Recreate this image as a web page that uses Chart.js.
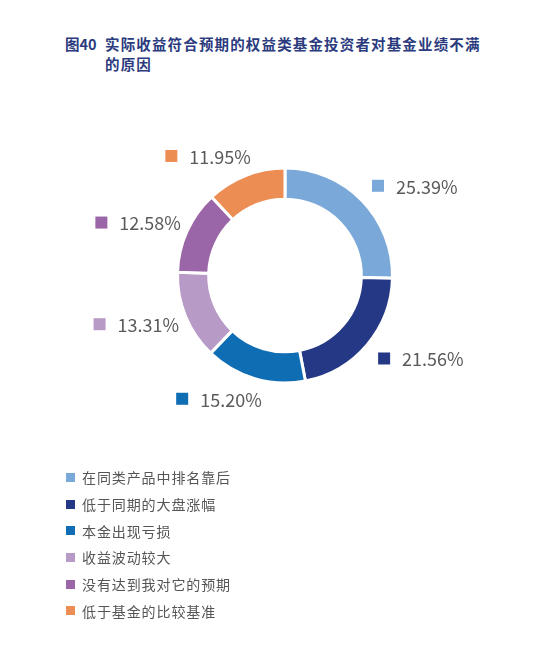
<!DOCTYPE html>
<html>
<head>
<meta charset="utf-8">
<script src="https://cdn.jsdelivr.net/npm/chart.js@4.4.1/dist/chart.umd.min.js"></script>
<style>
  html, body { margin: 0; padding: 0; background: #ffffff; }
  #wrap { position: relative; width: 554px; height: 658px; overflow: hidden; }
  #chart { position: absolute; left: 0; top: 0; }
  .title { position: absolute; font-family: "Noto Sans CJK SC", "Noto Sans", sans-serif; font-weight: bold; font-size: 14.5px; color: #2B3B7E; line-height: 20px; white-space: nowrap; }
  #legend { position: absolute; left: 66px; top: 464px; font-family: "Noto Sans CJK SC", "Noto Sans", sans-serif; font-size: 14px; color: #555555; letter-spacing: 0.9px; }
  .li { height: 26.7px; display: flex; align-items: center; white-space: nowrap; }
  .sw { width: 9px; height: 9px; margin-right: 7px; flex: none; }
</style>
</head>
<body>
<div id="wrap">
  <div class="title" style="left:65px; top:34px;">图40</div>
  <div class="title" style="left:105px; top:34px; letter-spacing:1.15px;">实际收益符合预期的权益类基金投资者对基金业绩不满<br>的原因</div>
  <canvas id="chart" width="554" height="658"></canvas>
  <div id="legend"></div>
</div>
<script>
const categories = ["在同类产品中排名靠后", "低于同期的大盘涨幅", "本金出现亏损", "收益波动较大", "没有达到我对它的预期", "低于基金的比较基准"];
const values = [25.39, 21.56, 15.20, 13.31, 12.58, 11.95];
const valueLabels = ["25.39%", "21.56%", "15.20%", "13.31%", "12.58%", "11.95%"];
const colors = ["#7AA8D8", "#253886", "#0F6DB3", "#B89AC6", "#9A66A7", "#EC8D53"];

// HTML legend built from the arrays
const legend = document.getElementById('legend');
categories.forEach((c, i) => {
  const row = document.createElement('div');
  row.className = 'li';
  const sw = document.createElement('span');
  sw.className = 'sw';
  sw.style.background = colors[i];
  const tx = document.createElement('span');
  tx.textContent = c;
  row.appendChild(sw);
  row.appendChild(tx);
  legend.appendChild(row);
});

const labelPlugin = {
  id: 'sliceLabels',
  afterDatasetsDraw(chart) {
    const ctx = chart.ctx;
    const meta = chart.getDatasetMeta(0);
    ctx.save();
    ctx.font = '18px "Noto Sans CJK SC", "Noto Sans", sans-serif';
    ctx.textBaseline = 'middle';
    meta.data.forEach((arc, i) => {
      const p = arc.getProps(['x', 'y', 'startAngle', 'endAngle', 'outerRadius'], true);
      const mid = (p.startAngle + p.endAngle) / 2;
      const R = p.outerRadius + 21;
      const ax = p.x + R * Math.cos(mid);
      const ay = p.y + R * Math.sin(mid);
      const txt = valueLabels[i];
      const tw = ctx.measureText(txt).width;
      let sqX;
      if (Math.cos(mid) >= 0) {
        sqX = ax - 5;
      } else {
        sqX = ax + 13 - tw - 24;
      }
      ctx.fillStyle = colors[i];
      ctx.fillRect(sqX, ay - 6, 12, 12);
      ctx.fillStyle = '#5A5A5A';
      ctx.textAlign = 'left';
      ctx.fillText(txt, sqX + 24, ay + 1);
    });
    ctx.restore();
  }
};

new Chart(document.getElementById('chart'), {
  type: 'doughnut',
  data: {
    labels: categories,
    datasets: [{
      data: values,
      backgroundColor: colors,
      borderColor: '#ffffff',
      borderWidth: 3
    }]
  },
  options: {
    responsive: false,
    animation: false,
    cutout: '71%',
    layout: { padding: { left: 176, right: 160, top: 166.5, bottom: 273.5 } },
    plugins: {
      legend: { display: false },
      title: { display: false },
      tooltip: { enabled: false }
    }
  },
  plugins: [labelPlugin]
});
</script>
</body>
</html>
